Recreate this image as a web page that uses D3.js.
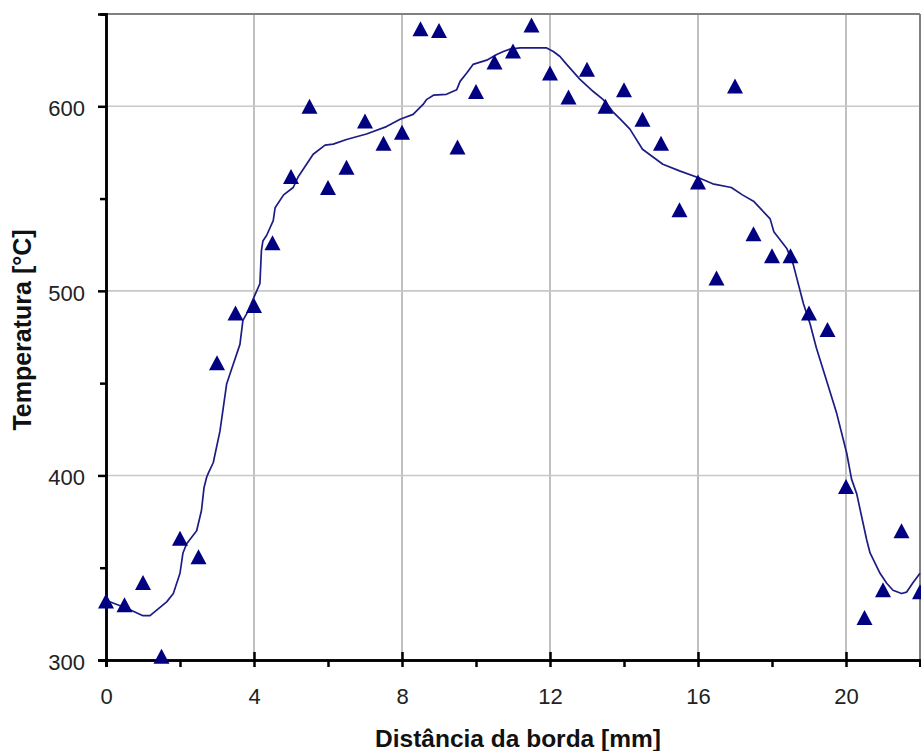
<!DOCTYPE html>
<html>
<head>
<meta charset="utf-8">
<script src="https://cdn.jsdelivr.net/npm/d3@7"></script>
<style>
  html, body { margin: 0; padding: 0; background: #fff; }
  svg { display: block; }
</style>
</head>
<body>
<svg id="chart" width="921" height="751"></svg>
<script>
// ---- Data ----
const pointX = [0,0.5,1,1.5,2,2.5,3,3.5,4,4.5,5,5.5,6,6.5,7,7.5,8,8.5,9,9.5,10,10.5,11,11.5,12,12.5,13,13.5,14,14.5,15,15.5,16,16.5,17,17.5,18,18.5,19,19.5,20,20.5,21,21.5,22];
const pointY = [332,330,342,302,366,356,461,488,492,526,562,600,556,567,592,580,586,642,641,578,608,624,630,644,618,605,620,600,609,593,580,544,559,507,611,531,519,519,488,479,394,323,338,370,337];

const lineX = [0,0.1,0.56,1.0,1.19,1.64,1.82,2.0,2.08,2.18,2.45,2.58,2.65,2.72,2.76,2.9,3.08,3.26,3.35,3.62,3.7,3.8,4.03,4.16,4.2,4.24,4.34,4.52,4.57,4.8,5.06,5.2,5.42,5.6,5.92,6.14,6.5,7.04,7.58,7.95,8.3,8.57,8.66,8.85,9.2,9.48,9.57,9.75,9.92,10.29,10.56,10.74,10.92,11.19,11.91,12.09,12.27,12.45,12.81,13.17,13.44,13.7,13.9,14.16,14.5,15.05,15.5,16.05,16.4,16.9,17.2,17.5,17.95,18.05,18.4,18.57,18.85,19.03,19.2,19.48,19.75,20.02,20.15,20.29,20.56,20.65,20.92,21.1,21.27,21.5,21.64,21.8,22.0];
const lineY = [332,331.6,328,324,324,331.5,336,347,358,363,370,381,393.5,399,401,407,424,449.5,455,471,484,487.5,498,504,521.6,527,530,538,545,552,556,562,568.6,574,579,579.5,582,585,589,593,595.6,601,603.6,606,606.5,609,613.5,618,622.7,625,628,629.7,631,631.6,631.6,629.7,627,622.7,614.6,608,603.6,597,593,587.6,576.7,568.6,565,561,558,556,552,548.6,539,532,523,514.6,493,482,469,451,433.5,412,398,390,365,358,347,341.6,337.8,336,336.8,341.6,347];

const xMajorTicks = [0,4,8,12,16,20];
const xMinorTicks = [2,6,10,14,18,22];
const yMajorTicks = [300,400,500,600];
const yMinorTicks = [350,450,550,650];
const xDomain = [0,22];
const yDomain = [300,650];
const xTitle = "Distância da borda [mm]";
const yTitle = "Temperatura [°C]";

// ---- Layout ----
const svg = d3.select("#chart");
const L = 106, R = 920, T = 14, B = 660;
const x = d3.scaleLinear().domain(xDomain).range([L, R]);
const y = d3.scaleLinear().domain(yDomain).range([B, T]);

// gridlines
const grid = svg.append("g");
grid.selectAll("line.vg").data(xMajorTicks.filter(d => d > 0)).join("line")
  .attr("x1", d => x(d)).attr("x2", d => x(d)).attr("y1", T).attr("y2", B)
  .attr("stroke", "#c0c0c0").attr("stroke-width", 2);
grid.selectAll("line.hg").data(yMajorTicks.filter(d => d > 300)).join("line")
  .attr("x1", L).attr("x2", R).attr("y1", d => y(d)).attr("y2", d => y(d))
  .attr("stroke", "#c8c8c8").attr("stroke-width", 1.6);

// plot border (top, right)
svg.append("line").attr("x1", L).attr("x2", R).attr("y1", T).attr("y2", T)
  .attr("stroke", "#808080").attr("stroke-width", 2);
svg.append("line").attr("x1", R).attr("x2", R).attr("y1", T).attr("y2", B)
  .attr("stroke", "#808080").attr("stroke-width", 2);

// Axes
const xAxisMajor = d3.axisBottom(x).tickValues(xMajorTicks).tickSize(7).tickPadding(21).tickFormat(d3.format("d"));
const xAxisMinor = d3.axisBottom(x).tickValues(xMinorTicks).tickSize(7).tickFormat("");
const yAxisMajor = d3.axisLeft(y).tickValues(yMajorTicks).tickSize(8).tickPadding(13).tickFormat(d3.format("d"));
const yAxisMinor = d3.axisLeft(y).tickValues(yMinorTicks).tickSize(6).tickFormat("");

function styleAxis(g) {
  g.select(".domain").attr("stroke", "#000").attr("stroke-width", 2.5);
  g.selectAll(".tick line").attr("stroke", "#000").attr("stroke-width", 2.5);
  g.selectAll(".tick text").attr("fill", "#222")
    .style("font-family", "'Liberation Sans', Arial, sans-serif").style("font-size", "22px");
}

const gxMinor = svg.append("g").attr("transform", `translate(0,${B})`).call(xAxisMinor);
styleAxis(gxMinor);
const gx = svg.append("g").attr("transform", `translate(0,${B})`).call(xAxisMajor);
styleAxis(gx);
// major x ticks cross the axis
gx.selectAll(".tick line").attr("y1", d => d === 0 ? 0 : -8);

const gyMinor = svg.append("g").attr("transform", `translate(${L},0)`).call(yAxisMinor);
styleAxis(gyMinor);
const gy = svg.append("g").attr("transform", `translate(${L},0)`).call(yAxisMajor);
styleAxis(gy);
gy.selectAll(".tick text").attr("dy", "0.42em");

// Line
const line = d3.line().x((d, i) => x(lineX[i])).y((d, i) => y(lineY[i])).curve(d3.curveLinear);
svg.append("path").datum(lineY).attr("d", line)
  .attr("fill", "none").attr("stroke", "#1c1c84").attr("stroke-width", 1.7)
  .attr("stroke-linejoin", "round");

// Triangle markers
const tri = {
  draw(ctx, size) {
    const w = 8, h = 7.5;
    ctx.moveTo(0, -h);
    ctx.lineTo(w, h);
    ctx.lineTo(-w, h);
    ctx.closePath();
  }
};
svg.append("g").selectAll("path").data(pointY).join("path")
  .attr("d", d3.symbol().type(tri))
  .attr("transform", (d, i) => `translate(${x(pointX[i])},${y(d)})`)
  .attr("fill", "#000080");

// Axis titles
svg.append("text").attr("x", 518).attr("y", 747).attr("text-anchor", "middle")
  .style("font-family", "'Liberation Sans', Arial, sans-serif").style("font-size", "24.5px")
  .style("font-weight", "bold").attr("fill", "#111").text(xTitle);
svg.append("text").attr("transform", "translate(31,330) rotate(-90)").attr("text-anchor", "middle")
  .style("font-family", "'Liberation Sans', Arial, sans-serif").style("font-size", "25px")
  .style("font-weight", "bold").attr("fill", "#111").text(yTitle);
</script>
</body>
</html>
